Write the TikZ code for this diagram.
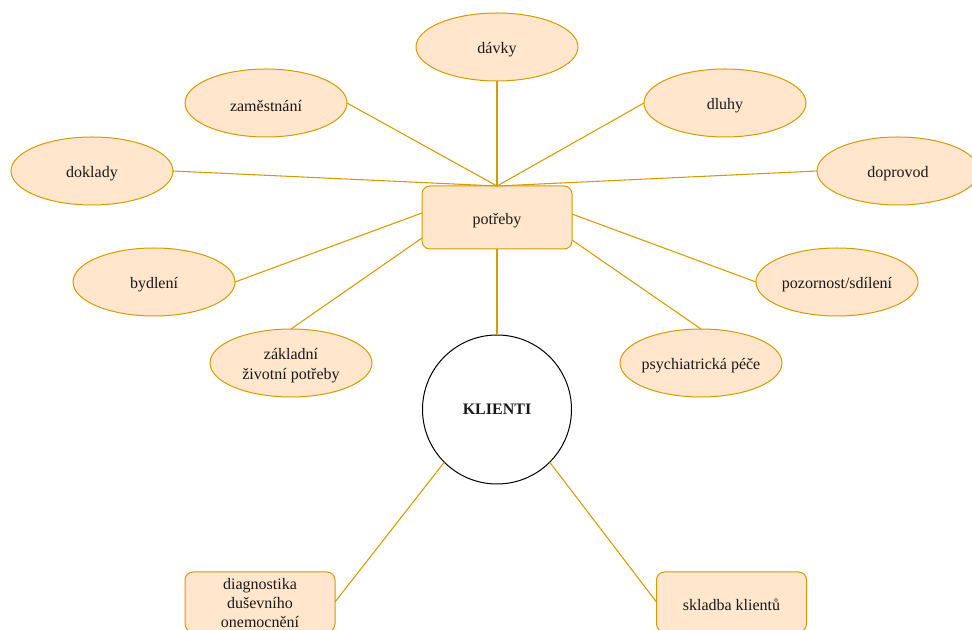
\documentclass[tikz,border=0pt]{standalone}
\usepackage{fontspec}
\setmainfont{Liberation Serif}
\usetikzlibrary{shapes.geometric}
\definecolor{needfill}{HTML}{FFE6CC}
\definecolor{needline}{HTML}{D79B00}
\tikzset{
  needoval/.style={ellipse, draw=needline, fill=needfill, line width=0.75pt,
    minimum width=121.5pt, minimum height=51pt, inner sep=0pt, outer sep=0pt},
  needbox/.style={rectangle, rounded corners=6pt, draw=needline, fill=needfill,
    line width=0.75pt, minimum width=112.5pt, minimum height=47pt,
    inner sep=0pt, outer sep=0pt},
  caption/.style={align=center, yshift=-2pt},
  link/.style={draw=needline, line width=0.8pt},
  every node/.style={font=\fontsize{12}{14.4}\selectfont, text=black!90}
}
\begin{document}
\begin{tikzpicture}[x=0.75pt,y=-0.75pt]
\useasboundingbox (0,0) rectangle (972,630);

% central box and client circle
\node[needbox, minimum height=47.25pt, label={[caption]center:potřeby}] (potreby) at (497,217.5) {};
\node[circle, draw=black, line width=0.75pt, minimum size=111.75pt, inner sep=0pt,
      outer sep=0pt, fill=white, font=\fontsize{12}{14.4}\selectfont\bfseries]
      (klienti) at (497,409.5) {KLIENTI};

% needs around the box
\node[needoval, label={[caption]center:dávky}] (davky) at (497,47) {};
\node[needoval, label={[caption]center:zaměstnání}] (zamestnani) at (266,103) {};
\node[needoval, label={[caption]center:dluhy}] (dluhy) at (725,103) {};
\node[needoval, label={[caption]center:doklady}] (doklady) at (92,171) {};
\node[needoval, label={[caption]center:doprovod}] (doprovod) at (898,171) {};
\node[needoval, label={[caption]center:bydlení}] (bydleni) at (154,282) {};
\node[needoval, label={[caption]center:pozornost/sdílení}] (pozornost) at (837,282) {};
\node[needoval, label={[caption]center:základní\\životní potřeby}] (zakladni) at (291,363) {};
\node[needoval, label={[caption]center:psychiatrická péče}] (psych) at (701,363) {};

% boxes below the clients
\node[needbox, minimum height=45pt,
      label={[align=center, yshift=-0.8pt]center:diagnostika\\duševního\\onemocnění}] (diag) at (260,602) {};
\node[needbox, minimum height=45pt, label={[caption]center:skladba klientů}] (skladba) at (731.5,602) {};

% connectors
\draw[link] (davky.south) -- (potreby.north);
\draw[link] (zamestnani.east) -- (potreby.north);
\draw[link] (dluhy.west) -- (potreby.north);
\draw[link] (doklady.east) -- (potreby.north);
\draw[link] (doprovod.west) -- (potreby.north);
\draw[link] (bydleni.east) -- ([yshift=3.4pt]potreby.west);
\draw[link] (zakladni.north) -- ([yshift=-15.4pt]potreby.west);
\draw[link] (pozornost.west) -- ([yshift=2.6pt]potreby.east);
\draw[link] (psych.north) -- ([yshift=-16.9pt]potreby.east);
\draw[link] (potreby.south) -- (klienti.north);
\draw[link] (klienti.225) -- (diag.east);
\draw[link] (klienti.315) -- (skladba.west);
\end{tikzpicture}
\end{document}
